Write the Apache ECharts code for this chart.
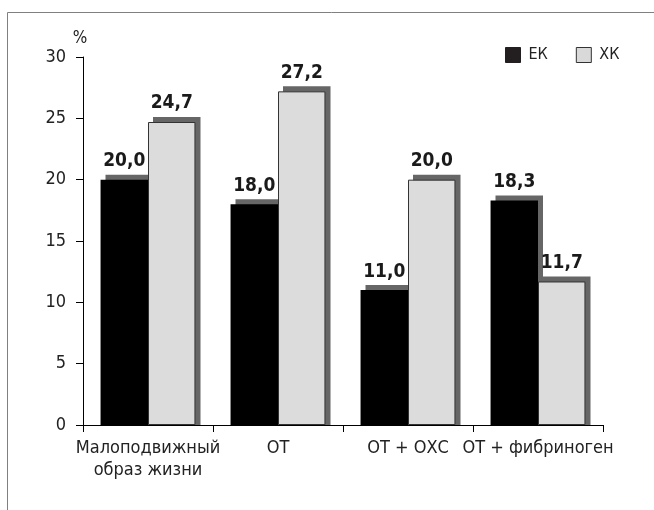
<!DOCTYPE html>
<html>
<head>
<meta charset="utf-8">
<script src="https://cdn.jsdelivr.net/npm/echarts@6/dist/echarts.min.js"></script>
<style>
html,body{margin:0;padding:0;background:#fff;}
#chart{width:654px;height:510px;}
</style>
</head>
<body>
<div id="chart"></div>
<script>
var categories = ['Малоподвижный\nобраз жизни', 'ОТ', 'ОТ + ОХС', 'ОТ + фибриноген'];
var seriesNames = ['ЕК', 'ХК'];
var ekValues = [20.0, 18.0, 11.0, 18.3];
var xkValues = [24.7, 27.2, 20.0, 11.7];
var yTicks = [0, 5, 10, 15, 20, 25, 30];

var NARROW = '"Liberation Sans Narrow", "DejaVu Sans Condensed", sans-serif';
var COND = '"DejaVu Sans Condensed", "Liberation Sans Narrow", sans-serif';
var BAR_RATIO = 47.5 / 130;

var chart = echarts.init(document.getElementById('chart'), null, {renderer: 'canvas'});

function shadowRender(seriesIdx) {
  return function (params, api) {
    var i = api.value(0), v = api.value(1);
    var base = api.coord([i, 0]);
    var top = api.coord([i, v]);
    var catW = api.size([1, 0])[0];
    var bw = catW * BAR_RATIO;
    var x = base[0] - bw + seriesIdx * bw;
    return {
      type: 'rect',
      shape: {x: x + 5, y: top[1] - 5, width: bw, height: base[1] - top[1] + 5},
      style: {fill: '#666666'}
    };
  };
}

var labelCfg = {
  show: true,
  position: 'top',
  distance: 9,
  fontFamily: COND,
  fontWeight: 'bold',
  fontSize: 19,
  color: '#1a1a1a',
  formatter: function (p) { return p.value.toFixed(1).replace('.', ','); }
};

chart.setOption({
  animation: false,
  backgroundColor: '#fff',
  graphic: [{
    type: 'rect',
    shape: {x: 7.5, y: 12.5, width: 700, height: 600},
    style: {fill: 'none', stroke: '#808080', lineWidth: 1},
    z: -10
  }],
  legend: {
    data: [
      {name: seriesNames[0], itemStyle: {color: '#231f20', borderColor: '#231f20', borderWidth: 1}},
      {name: seriesNames[1], itemStyle: {color: '#d9d9d9', borderColor: '#333', borderWidth: 1}}
    ],
    left: 505,
    top: 47,
    padding: 0,
    itemWidth: 15,
    itemHeight: 15,
    itemGap: 28,
    icon: 'rect',
    textStyle: {fontFamily: NARROW, fontSize: 16, color: '#222', padding: [0, 0, 0, 3]}
  },
  grid: {left: 83, right: 51, top: 57, bottom: 85, containLabel: false},
  xAxis: {
    type: 'category',
    data: categories,
    boundaryGap: true,
    axisLine: {lineStyle: {color: '#000', width: 1}},
    axisTick: {show: true, alignWithLabel: false, length: 7, lineStyle: {color: '#000'}},
    axisLabel: {fontFamily: NARROW, fontSize: 18, color: '#222', margin: 12, lineHeight: 22, interval: 0}
  },
  yAxis: {
    type: 'value',
    min: 0, max: 30, interval: 5,
    name: '%',
    nameLocation: 'end',
    nameGap: 10,
    nameTextStyle: {fontFamily: NARROW, fontSize: 17, color: '#222', align: 'center', padding: [0, 6, 0, 0]},
    axisLine: {show: true, lineStyle: {color: '#000', width: 1}},
    axisTick: {show: true, length: 7, lineStyle: {color: '#000'}},
    splitLine: {show: false},
    axisLabel: {fontFamily: NARROW, fontSize: 18, color: '#222', margin: 17,
      formatter: function (v) { return yTicks.indexOf(v) >= 0 ? String(v) : ''; }}
  },
  series: [
    {
      type: 'custom', name: 'shadowEK', renderItem: shadowRender(0), z: 1,
      data: ekValues.map(function (v, i) { return [i, v]; }), silent: true
    },
    {
      type: 'custom', name: 'shadowXK', renderItem: shadowRender(1), z: 1,
      data: xkValues.map(function (v, i) { return [i, v]; }), silent: true
    },
    {
      name: seriesNames[0], type: 'bar', data: ekValues, barWidth: '36.5%', barGap: '0%', z: 2,
      itemStyle: {color: '#000'},
      label: labelCfg
    },
    {
      name: seriesNames[1], type: 'bar', data: xkValues, barWidth: '36.5%', barGap: '0%', z: 3,
      itemStyle: {color: '#dcdcdc', borderColor: '#333', borderWidth: 1},
      label: labelCfg
    }
  ]
});
</script>
</body>
</html>
